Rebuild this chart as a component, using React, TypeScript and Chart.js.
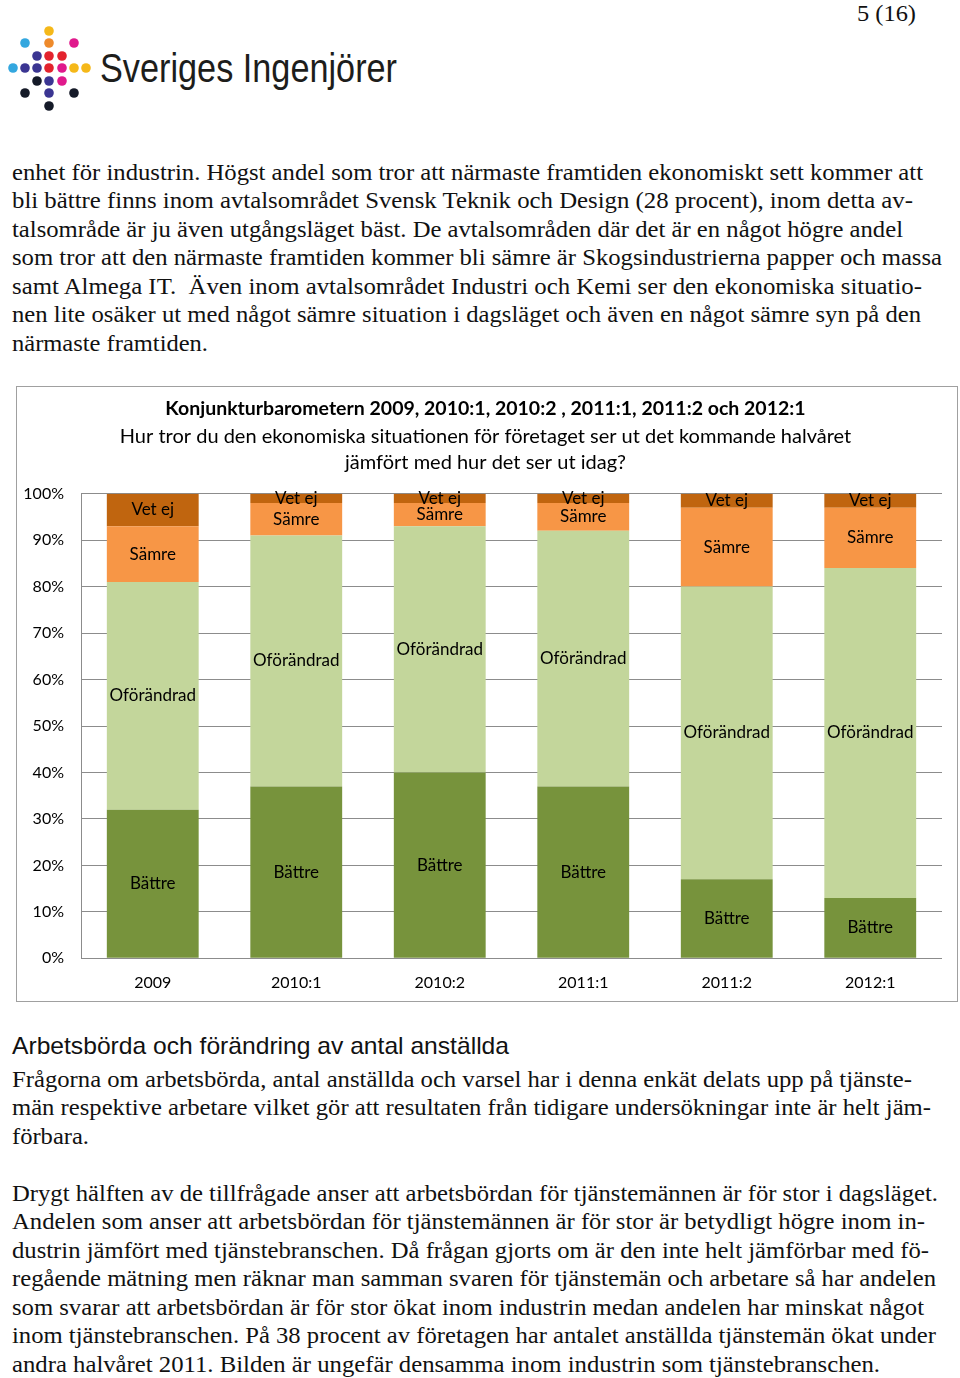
import React, { useEffect, useRef } from 'react';
import { Chart, registerables } from 'chart.js';

Chart.register(...registerables);

// ---- chart data ----
const categories = ['2009', '2010:1', '2010:2', '2011:1', '2011:2', '2012:1'];
const battre = [32, 37, 40, 37, 17, 13];
const oforandrad = [49, 54, 53, 55, 63, 71];
const samre = [12, 7, 5, 6, 17, 13];
const vetEj = [7, 2, 2, 2, 3, 3];
const seriesNames = ['Bättre', 'Oförändrad', 'Sämre', 'Vet ej'];
const seriesColors = ['#77933C', '#C3D69B', '#F79646', '#C0650F'];
const yTickSuffix = '%';
const chartTitle = 'Konjunkturbarometern 2009, 2010:1, 2010:2 , 2011:1, 2011:2 och 2012:1';
const chartSubtitle = [
  'Hur tror du den ekonomiska situationen för företaget ser ut det kommande halvåret',
  'jämfört med hur det ser ut idag?',
];

// ---- page text ----
const para1 = [
  'enhet för industrin. Högst andel som tror att närmaste framtiden ekonomiskt sett kommer att',
  'bli bättre finns inom avtalsområdet Svensk Teknik och Design (28 procent), inom detta av-',
  'talsområde är ju även utgångsläget bäst. De avtalsområden där det är en något högre andel',
  'som tror att den närmaste framtiden kommer bli sämre är Skogsindustrierna papper och massa',
  'samt Almega IT.  Även inom avtalsområdet Industri och Kemi ser den ekonomiska situatio-',
  'nen lite osäker ut med något sämre situation i dagsläget och även en något sämre syn på den',
  'närmaste framtiden.',
];
const para1Ends = [923, 913, 903, 942, 922, 921, 208];
const heading = 'Arbetsbörda och förändring av antal anställda';
const para2 = [
  'Frågorna om arbetsbörda, antal anställda och varsel har i denna enkät delats upp på tjänste-',
  'män respektive arbetare vilket gör att resultaten från tidigare undersökningar inte är helt jäm-',
  'förbara.',
];
const para2Ends = [912, 931, 89];
const para3 = [
  'Drygt hälften av de tillfrågade anser att arbetsbördan för tjänstemännen är för stor i dagsläget.',
  'Andelen som anser att arbetsbördan för tjänstemännen är för stor är betydligt högre inom in-',
  'dustrin jämfört med tjänstebranschen. Då frågan gjorts om är den inte helt jämförbar med fö-',
  'regående mätning men räknar man samman svaren för tjänstemän och arbetare så har andelen',
  'som svarar att arbetsbördan är för stor ökat inom industrin medan andelen har minskat något',
  'inom tjänstebranschen. På 38 procent av företagen har antalet anställda tjänstemän ökat under',
  'andra halvåret 2011. Bilden är ungefär densamma inom industrin som tjänstebranschen.',
];
const para3Ends = [938, 925, 929, 936, 924, 936, 880];

// logo dots: [x, y, color]
const logoDots: [number, number, string][] = [
  [49, 31, '#F5B819'],
  [25, 43, '#33A7DF'], [49, 43, '#EE8A2B'], [74, 43, '#E0198C'],
  [37, 56, '#3B3592'], [49, 56, '#E3232D'], [62, 56, '#E3232D'],
  [13, 68, '#33A7DF'], [25, 68, '#3B3592'], [37, 68, '#3B3592'], [49, 68, '#E3232D'], [62, 68, '#E0198C'], [74, 68, '#F5B819'], [86, 68, '#F5B819'],
  [37, 81, '#151A28'], [49, 81, '#3B3592'], [62, 81, '#E0198C'],
  [25, 93, '#151A28'], [49, 93, '#3B3592'], [74, 93, '#151A28'],
  [49, 106, '#151A28'],
];

const CHART_FONT = 'Lato, "Open Sans", sans-serif';
const SERIF = '"Liberation Serif", "Times New Roman", serif';
const LINE_STEP = 28.5;

const segmentLabels = {
  id: 'segmentLabels',
  afterDatasetsDraw(chart: any) {
    const ctx = chart.ctx;
    ctx.save();
    ctx.font = `17px ${CHART_FONT}`;
    ctx.fillStyle = '#000';
    ctx.textAlign = 'center';
    ctx.textBaseline = 'middle';
    chart.data.datasets.forEach((ds: any, i: number) => {
      const meta = chart.getDatasetMeta(i);
      meta.data.forEach((bar: any) => {
        const p = bar.getProps(['x', 'y', 'base'], true);
        ctx.fillText(ds.label, p.x, (p.y + p.base) / 2);
      });
    });
    ctx.restore();
  },
};

function BarChart() {
  const ref = useRef<HTMLCanvasElement>(null);
  useEffect(() => {
    if (!ref.current) return;
    const values = [battre, oforandrad, samre, vetEj];
    const chart = new Chart(ref.current, {
      type: 'bar',
      data: {
        labels: categories,
        datasets: values.map((d, i) => ({
          label: seriesNames[i],
          data: d,
          backgroundColor: seriesColors[i],
          borderWidth: 0,
          categoryPercentage: 1,
          barPercentage: 0.64,
        })),
      },
      options: {
        responsive: false,
        animation: false,
        layout: { padding: { left: 0, right: 3, top: 0, bottom: 0 } },
        plugins: {
          legend: { display: false },
          tooltip: { enabled: false },
          title: {
            display: true,
            text: chartTitle,
            color: '#000',
            font: { family: CHART_FONT, size: 19.5, weight: 'bold', lineHeight: 1.2 },
            padding: { top: 10.3, bottom: 0 },
          },
          subtitle: {
            display: true,
            text: chartSubtitle,
            color: '#000',
            font: { family: CHART_FONT, size: 20, lineHeight: '26px' },
            padding: { top: 2.7, bottom: 18.3 },
          },
        },
        scales: {
          x: {
            stacked: true,
            grid: { display: false },
            border: { display: false },
            ticks: { color: '#000', font: { family: CHART_FONT, size: 16 }, padding: 7, maxRotation: 0 },
            afterFit: (s: any) => { s.height = 42.7; },
          },
          y: {
            stacked: true,
            min: 0,
            max: 100,
            grid: { color: '#8c8c8c', drawTicks: false },
            border: { color: '#8c8c8c' },
            ticks: {
              stepSize: 10,
              color: '#000',
              padding: 17,
              font: { family: CHART_FONT, size: 16 },
              callback: (v: any) => v + yTickSuffix,
            },
            afterFit: (s: any) => { s.width = 64; },
          },
          yRight: {
            type: 'linear',
            position: 'right',
            display: true,
            min: 0,
            max: 100,
            grid: { display: false, drawOnChartArea: false },
            border: { display: false },
            ticks: { display: false },
            afterFit: (s: any) => { s.width = 12; },
          },
        },
      } as any,
      plugins: [segmentLabels],
    });
    return () => chart.destroy();
  }, []);
  return <canvas ref={ref} width={940} height={614} style={{ display: 'block', width: 940, height: 614 }} />;
}

function Lines({ lines, ends, top }: { lines: string[]; ends: number[]; top: number }) {
  return (
    <>
      {lines.map((t, i) => (
        <text
          key={i}
          x={12}
          y={top + i * LINE_STEP}
          textLength={ends[i] - 12}
          lengthAdjust="spacingAndGlyphs"
          style={{ whiteSpace: 'pre' }}
        >
          {t}
        </text>
      ))}
    </>
  );
}

export default function App() {
  return (
    <div style={{ position: 'absolute', left: 0, top: 0, width: 960, height: 1378, background: '#fff', overflow: 'hidden' }}>
      <svg width={960} height={1378} style={{ position: 'absolute', left: 0, top: 0 }}>
        <text x={857} y={21} fontFamily={SERIF} fontSize={24} fill="#111" textLength={59} lengthAdjust="spacingAndGlyphs">5 (16)</text>
        {logoDots.map(([x, y, c], i) => (
          <circle key={i} cx={x} cy={y} r={4.8} fill={c} />
        ))}
        <text x={100} y={82} fontFamily='"Liberation Sans", Arial, sans-serif' fontSize={41} fill="#1d1d1b" textLength={297} lengthAdjust="spacingAndGlyphs">Sveriges Ingenjörer</text>
        <g fontFamily={SERIF} fontSize={24} fill="#111">
          <Lines lines={para1} ends={para1Ends} top={179.5} />
          <Lines lines={para2} ends={para2Ends} top={1086.5} />
          <Lines lines={para3} ends={para3Ends} top={1200.5} />
        </g>
        <text x={12} y={1054} fontFamily='"Liberation Sans", Arial, sans-serif' fontSize={24} fill="#111" textLength={497} lengthAdjust="spacingAndGlyphs">{heading}</text>
      </svg>
      <div style={{ position: 'absolute', left: 16, top: 386, width: 942, height: 616, boxSizing: 'border-box', border: '1px solid #a0a0a0', background: '#fff' }}>
        <BarChart />
      </div>
    </div>
  );
}
